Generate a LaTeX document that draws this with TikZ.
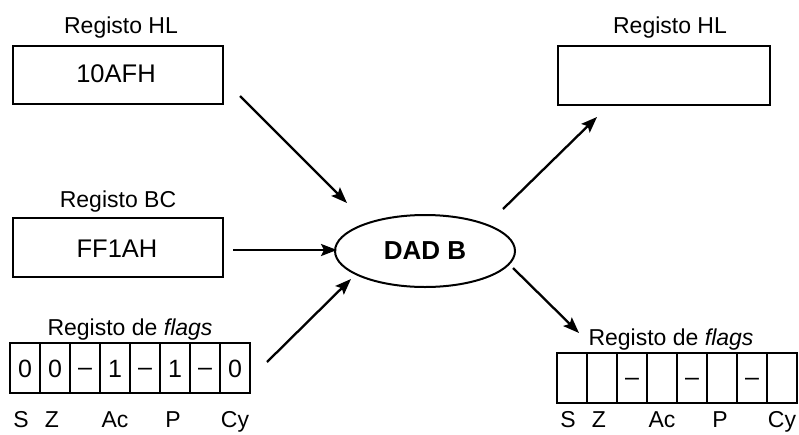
\documentclass[tikz,border=0pt]{standalone}
\usepackage{fontspec}
\setmainfont{Liberation Sans}
\usetikzlibrary{arrows.meta,shapes.geometric}
\newcommand{\fdash}{\raisebox{2pt}{–}}
\tikzset{
  lbl/.style={font=\fontsize{23}{27}\selectfont, anchor=base, inner sep=0pt},
  val/.style={font=\fontsize{25.5}{30}\selectfont, anchor=base, inner sep=0pt},
  regbox/.style={draw, line width=2pt, inner sep=0pt},
  cellbox/.style={draw, line width=1.8pt, minimum width=30pt, minimum height=50pt, inner sep=0pt,
    text height=18pt, text depth=0pt, font=\fontsize{25}{30}\selectfont},
  arr/.style={line width=2.3pt, -{Stealth[length=16pt,width=12pt,inset=3pt]}},
}
\begin{document}
\begin{tikzpicture}[x=1pt,y=-1pt]
\useasboundingbox (0,0) rectangle (799,434);
% left registers
\node[lbl] (lhll) at (121,33) {Registo HL};
\node[regbox, minimum width=210pt, minimum height=58pt] (lhl) at (118,75) {};
\node[val] (lhlv) at (116,82) {10AFH};
\node[lbl] (lbcl) at (118,207) {Registo BC};
\node[regbox, minimum width=210pt, minimum height=59pt] (lbc) at (118,247.5) {};
\node[val] (lbcv) at (117,257) {FF1AH};
% left flags
\node[lbl] (lfl) at (130,335) {Registo de \textit{flags}};
\foreach \i/\t in {1/0,2/0,3/\fdash,4/1,5/\fdash,6/1,7/\fdash,8/0}{
  \node[cellbox] (lf\i) at ({10+30*(\i-0.5)},368) {\t};
}
\node[lbl] at ([yshift=-34pt]lf1.south) [anchor=base, xshift=-4pt] (ls) {S};
\node[lbl] at ([yshift=-34pt]lf2.south) [anchor=base, xshift=-3pt] (lz) {Z};
\node[lbl] at ([yshift=-34pt]lf4.south) [anchor=base] (lac) {Ac};
\node[lbl] at ([yshift=-34pt]lf6.south) [anchor=base, xshift=-2pt] (lp) {P};
\node[lbl] at ([yshift=-34pt]lf8.south) [anchor=base] (lcy) {Cy};
% centre
\node[draw, ellipse, line width=2pt, minimum width=180pt, minimum height=72pt, inner sep=0pt,
  font=\bfseries\fontsize{26}{30}\selectfont] (dad) at (425,251) {DAD B};
% right registers
\node[lbl] (rhll) at (670,33) {Registo HL};
\node[regbox, minimum width=212pt, minimum height=59pt] (rhl) at (664,75.5) {};
% right flags
\node[lbl] (rfl) at (671,345) {Registo de \textit{flags}};
\foreach \i/\t in {1/,2/,3/\fdash,4/,5/\fdash,6/,7/\fdash,8/}{
  \node[cellbox] (rf\i) at ({557+30*(\i-0.5)},378) {\t};
}
\node[lbl] at ([yshift=-24pt]rf1.south) [anchor=base, xshift=-4pt] (rs) {S};
\node[lbl] at ([yshift=-24pt]rf2.south) [anchor=base, xshift=-3pt] (rz) {Z};
\node[lbl] at ([yshift=-24pt]rf4.south) [anchor=base] (rac) {Ac};
\node[lbl] at ([yshift=-24pt]rf6.south) [anchor=base, xshift=-2pt] (rp) {P};
\node[lbl] at ([yshift=-24pt]rf8.south) [anchor=base] (rcy) {Cy};
% connector ends
\coordinate (a1s) at (240,96);   \coordinate (a1e) at (347,203);
\coordinate (a2s) at (233,250);  \coordinate (a2e) at (337,250);
\coordinate (a3s) at (267,362);  \coordinate (a3e) at (351,279);
\coordinate (a4s) at (503,209);  \coordinate (a4e) at (597,117);
\coordinate (a5s) at (513,268);  \coordinate (a5e) at (579,333);
\draw[arr] (a1s) -- (a1e);
\draw[arr] (a2s) -- (a2e);
\draw[arr] (a3s) -- (a3e);
\draw[arr] (a4s) -- (a4e);
\draw[arr] (a5s) -- (a5e);
\end{tikzpicture}
\end{document}
